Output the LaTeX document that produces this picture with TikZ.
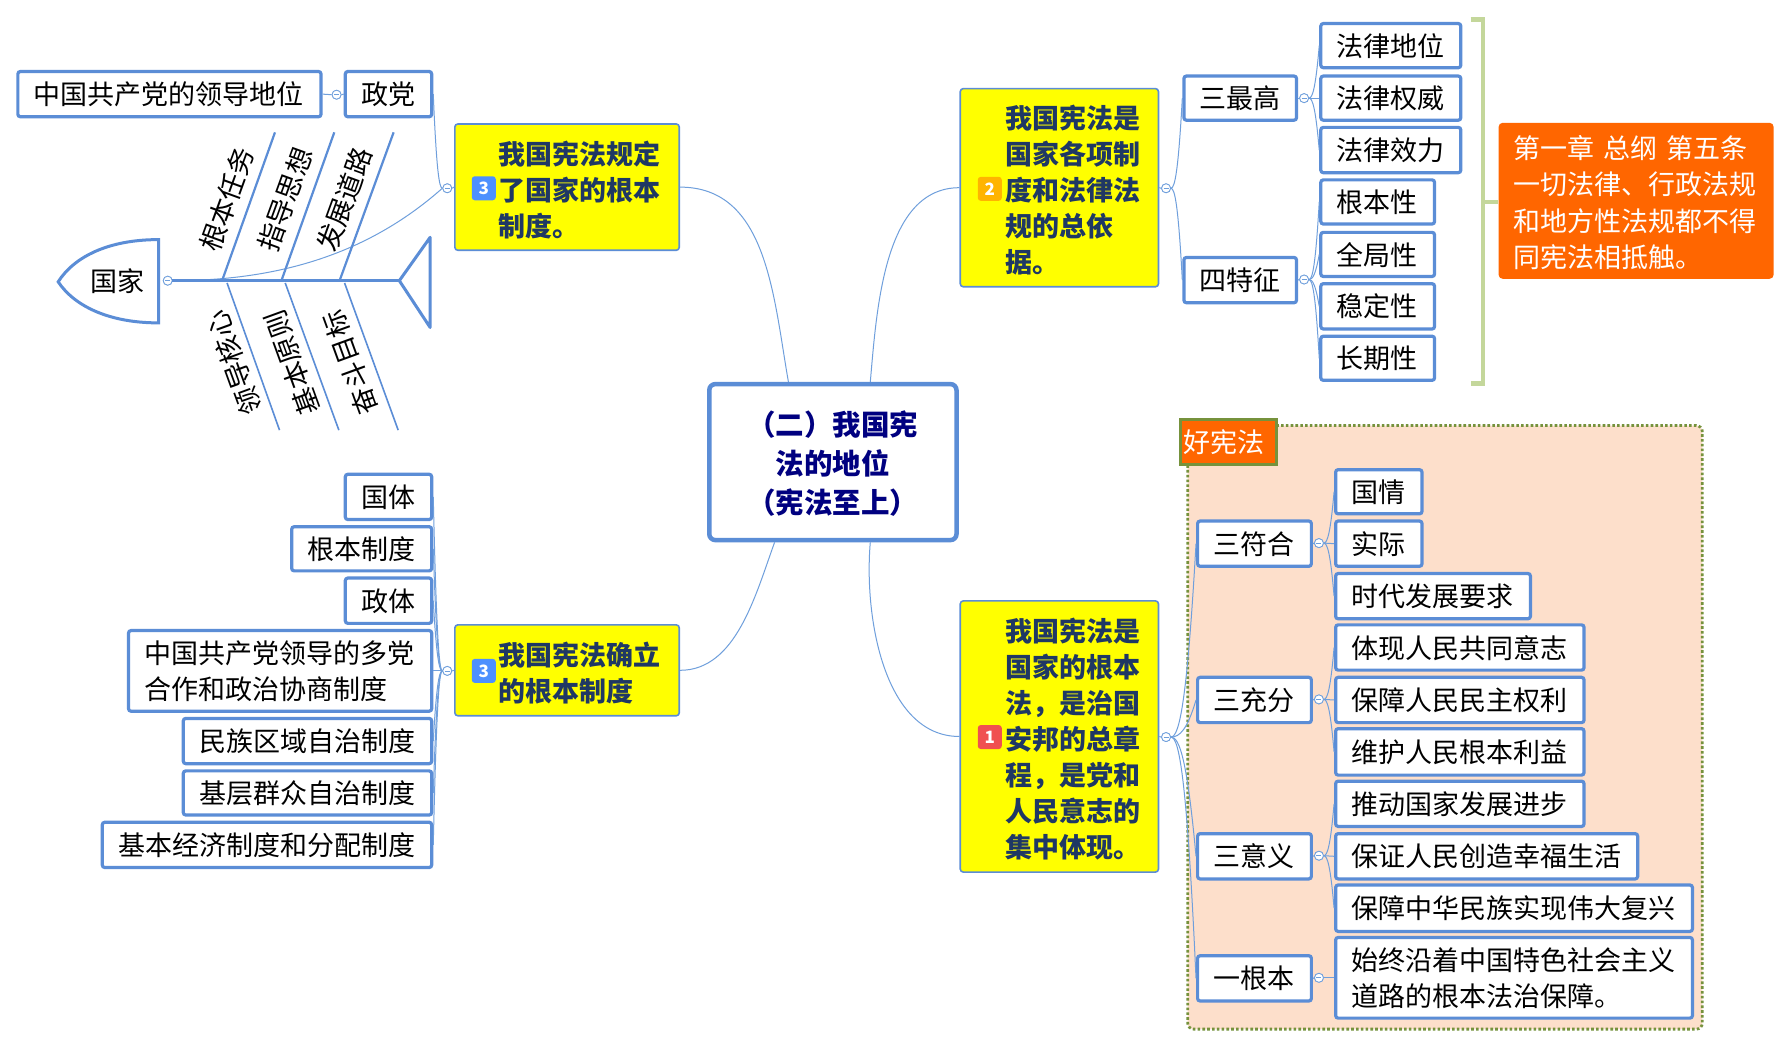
\documentclass[tikz,border=0pt]{standalone}
\usepackage{fontspec}
\setmainfont{Noto Sans CJK SC}
\usetikzlibrary{calc}
\definecolor{bl}{HTML}{5B8DD6}
\definecolor{cn}{HTML}{6F9FDC}
\definecolor{navy2}{HTML}{1F3864}
\definecolor{navy3}{HTML}{000080}
\definecolor{ol}{HTML}{76923C}
\definecolor{orng}{HTML}{FF6600}
\definecolor{peach}{HTML}{FDDFCB}
\definecolor{grn}{HTML}{C4D79B}
\definecolor{bdgb}{HTML}{4D90FE}
\definecolor{bdgo}{HTML}{FFB400}
\definecolor{bdgr}{HTML}{F05050}
\definecolor{yy}{RGB}{255,255,0}
\newcommand\lstrut[2]{\rule[-#2pt]{0pt}{#1pt}}
\tikzset{
  x=1.14094pt,y=-1.14094pt,
  basebox/.style={rectangle,align=left,inner ysep=0pt,inner xsep=16pt},
  struts/.style 2 args={execute at begin node={\lstrut{#1}{#2}},execute at end node={\lstrut{#1}{#2}}},
  leaf/.style={basebox,draw=bl,line width=3.2pt,fill=white,rounded corners=2.5pt,font=\fontsize{27}{36}\selectfont,struts={27.2}{3}},
  ybox/.style={basebox,draw=bl,line width=1.6pt,fill=yy,rounded corners=3pt},
  ytext/.style={anchor=west,inner sep=0pt,align=left,text=navy2,font=\fontsize{27}{36}\selectfont\bfseries},
  mainbox/.style={basebox,align=center,draw=bl,line width=4.5pt,fill=white,rounded corners=6pt,text=navy3,font=\fontsize{28.5}{39}\selectfont\bfseries,struts={31.6}{3.2}},
  orangebox/.style={basebox,inner xsep=15pt,fill=orng,text=white,rounded corners=4pt,font=\fontsize{27}{36.5}\selectfont,text width=245pt,struts={30.6}{3.2}},
  tagbox/.style={basebox,inner xsep=3pt,text width=90pt,fill=orng,draw=ol,line width=3pt,text=white,font=\fontsize{27}{36}\selectfont},
  badge/.style={rectangle,rounded corners=3pt,minimum width=24pt,minimum height=24pt,inner sep=0pt,text=white,font=\fontsize{17}{17}\selectfont\bfseries},
  coll/.style={circle,draw=cn,line width=.8pt,fill=white,minimum size=9pt,inner sep=0pt,
    path picture={\draw[cn,line width=.7pt] ([xshift=2pt]path picture bounding box.west) -- ([xshift=-2pt]path picture bounding box.east);}},
  conn/.style={draw=cn,line width=1pt},
  fishtext/.style={inner sep=0pt,font=\fontsize{27}{27}\selectfont},
  bone/.style={draw=bl,line width=2.2pt},
  lbone/.style={draw=bl,line width=1.6pt},
}
% style, name, x1,y1,x2,y2, text
\newcommand\bx[7]{%
  \pgfmathsetmacro\boxw{(#5-#3)*1.14094-1.5}%
  \pgfmathsetmacro\boxh{(#6-#4)*1.14094-1.5}%
  \pgfmathsetmacro\boxx{(#3+#5)/2}%
  \pgfmathsetmacro\boxy{(#4+#6)/2}%
  \node[minimum width=\boxw pt,minimum height=\boxh pt,text width=\boxw pt-32pt,#1] (#2) at (\boxx,\boxy) {#7};}
\newcommand\rup[2]{\draw[conn] let \p1=(#1.east),\p2=(#2.west),\n1={abs(\y2-\y1)*.8},\n2={(\x2-\x1)*.35} in (\p1) .. controls (\x1+\n2,\y1) and (\x2-\n2,\y2-\n1) .. (\p2);}
\newcommand\rdn[2]{\draw[conn] let \p1=(#1.east),\p2=(#2.west),\n1={abs(\y2-\y1)*.8},\n2={(\x2-\x1)*.35} in (\p1) .. controls (\x1+\n2,\y1) and (\x2-\n2,\y2+\n1) .. (\p2);}
\newcommand\lup[2]{\draw[conn] let \p1=(#1.west),\p2=(#2.east),\n1={abs(\y2-\y1)*.8},\n2={(\x1-\x2)*.35} in (\p1) .. controls (\x1-\n2,\y1) and (\x2+\n2,\y2-\n1) .. (\p2);}
\newcommand\ldn[2]{\draw[conn] let \p1=(#1.west),\p2=(#2.east),\n1={abs(\y2-\y1)*.8},\n2={(\x1-\x2)*.35} in (\p1) .. controls (\x1-\n2,\y1) and (\x2+\n2,\y2+\n1) .. (\p2);}
\begin{document}
\begin{tikzpicture}
\fill[white] (0,0) rectangle (1568,917);
\useasboundingbox (0,0) rectangle (1568,917);
% framed region
\draw[fill=peach,draw=ol,line width=2.8pt,dash pattern=on 2.6pt off 2.2pt,rounded corners=6pt] (1041,373) rectangle (1492,902);
% collapse marks
\node[coll] (cA) at (295,83) {};
\node[coll] (cB) at (392,165) {};
\node[coll] (cF) at (147,246) {};
\node[coll] (cC) at (392,588) {};
\node[coll] (cD) at (1022,165) {};
\node[coll] (cE) at (1143,86) {};
\node[coll] (cG) at (1143,245) {};
\node[coll] (cH) at (1022,646) {};
\node[coll] (cI) at (1156,476) {};
\node[coll] (cJ) at (1156,613) {};
\node[coll] (cK) at (1156,750) {};
\node[coll] (cL) at (1156,857) {};
% boxes
\bx{mainbox}{main}{621}{336}{839}{474}{（二）我国宪\\法的地位\\（宪法至上）}
\bx{ybox}{yTL}{398}{108}{596}{220}{}
\bx{ybox}{yBL}{398}{547}{596}{628}{}
\bx{ybox}{yTR}{841}{77}{1016}{252}{}
\bx{ybox}{yBR}{841}{526}{1016}{765}{}
\node[ytext] (tTL) at (437,166.5) {我国宪法规定\\了国家的根本\\制度。};
\node[ytext] (tBL) at (437,589.5) {我国宪法确立\\的根本制度};
\node[ytext] (tTR) at (881,167) {我国宪法是\\国家各项制\\度和法律法\\规的总依\\据。};
\node[ytext] (tBR) at (881,648) {我国宪法是\\国家的根本\\法，是治国\\安邦的总章\\程，是党和\\人民意志的\\集中体现。};
\node[badge,fill=bdgb] (b1) at (424,165) {3};
\node[badge,fill=bdgb] (b2) at (424,588) {3};
\node[badge,fill=bdgo] (b3) at (867.5,165.5) {2};
\node[badge,fill=bdgr] (b4) at (867.5,646) {1};
% top-left leaves
\bx{leaf}{lA}{15}{62}{282}{103}{中国共产党的领导地位}
\bx{leaf}{lB}{302}{62}{379}{103}{政党}
% bottom-left leaves
\bx{leaf}{m1}{302}{415}{379}{456}{国体}
\bx{leaf}{m2}{255}{461}{379}{501}{根本制度}
\bx{leaf}{m3}{302}{506}{379}{547}{政体}
\bx{leaf}{m4}{112}{552}{379}{624}{中国共产党领导的多党\\合作和政治协商制度}
\bx{leaf}{m5}{160}{629}{379}{670}{民族区域自治制度}
\bx{leaf}{m6}{160}{675}{379}{715}{基层群众自治制度}
\bx{leaf}{m7}{89}{720}{379}{761}{基本经济制度和分配制度}
% top-right leaves
\bx{leaf}{p1}{1037}{66}{1137}{106}{三最高}
\bx{leaf}{p2}{1037}{225}{1137}{266}{四特征}
\bx{leaf}{q1}{1157}{20}{1281}{60}{法律地位}
\bx{leaf}{q2}{1157}{66}{1281}{106}{法律权威}
\bx{leaf}{q3}{1157}{111}{1281}{152}{法律效力}
\bx{leaf}{q4}{1157}{157}{1258}{197}{根本性}
\bx{leaf}{q5}{1157}{203}{1258}{243}{全局性}
\bx{leaf}{q6}{1157}{248}{1258}{289}{稳定性}
\bx{leaf}{q7}{1157}{294}{1258}{334}{长期性}
\bx{orangebox}{note}{1314}{107}{1554}{245}{第一章 总纲 第五条\\一切法律、行政法规\\和地方性法规都不得\\同宪法相抵触。}
% bracket
\coordinate (brA) at (1289,17);
\coordinate (brB) at (1300,17);
\coordinate (brC) at (1300,336);
\coordinate (brD) at (1289,336);
\coordinate (brM) at (1300,177);
\draw[grn,line width=4.5pt] (brA) -- (brB) -- (brC) -- (brD);
\draw[grn,line width=4.5pt] (brM) -- (note.west |- brM);
% bottom-right leaves
\bx{tagbox}{tag}{1034}{367}{1119}{408}{好宪法}
\bx{leaf}{r1}{1049}{456}{1150}{497}{三符合}
\bx{leaf}{r2}{1049}{593}{1150}{634}{三充分}
\bx{leaf}{r3}{1049}{730}{1150}{771}{三意义}
\bx{leaf}{r4}{1049}{837}{1150}{878}{一根本}
\bx{leaf}{s1}{1170}{411}{1247}{451}{国情}
\bx{leaf}{s2}{1170}{456}{1247}{497}{实际}
\bx{leaf}{s3}{1170}{502}{1342}{543}{时代发展要求}
\bx{leaf}{s4}{1170}{547}{1389}{588}{体现人民共同意志}
\bx{leaf}{s5}{1170}{593}{1389}{634}{保障人民民主权利}
\bx{leaf}{s6}{1170}{638}{1389}{680}{维护人民根本利益}
\bx{leaf}{s7}{1170}{684}{1389}{725}{推动国家发展进步}
\bx{leaf}{s8}{1170}{730}{1436}{771}{保证人民创造幸福生活}
\bx{leaf}{s9}{1170}{775}{1484}{817}{保障中华民族实现伟大复兴}
\bx{leaf}{s10}{1170}{821}{1484}{893}{始终沿着中国特色社会主义\\道路的根本法治保障。}
% main connectors
\draw[conn] (main.119) to[out=100,in=0,looseness=1] (yTL.east);
\draw[conn] (main.65) to[out=85,in=180,looseness=.9] (yTR.west);
\draw[conn] (main.234) to[out=-110,in=0,looseness=.9] (yBL.east);
\draw[conn] (main.-65) to[out=-95,in=180,looseness=.9] (yBR.west);
% stems
\draw[conn] (yTL.west) -- (cB.east);
\draw[conn] (yBL.west) -- (cC.east);
\draw[conn] (yTR.east) -- (cD.west);
\draw[conn] (yBR.east) -- (cH.west);
\draw[conn] (p1.east) -- (cE.west);
\draw[conn] (p2.east) -- (cG.west);
\draw[conn] (r1.east) -- (cI.west);
\draw[conn] (r2.east) -- (cJ.west);
\draw[conn] (r3.east) -- (cK.west);
\draw[conn] (r4.east) -- (cL.west);
\draw[conn] (lB.west) -- (cA.east);
\draw[conn] (cA.west) -- (lA.east);
% branches
\lup{cB}{lB}
\draw[conn] (cB.west) .. controls (320,225) and (240,246) .. (cF.east);
\lup{cC}{m1}\lup{cC}{m2}\lup{cC}{m3}
\draw[conn] (cC.west) -- (m4.east);
\ldn{cC}{m5}\ldn{cC}{m6}\ldn{cC}{m7}
\rup{cD}{p1}\rdn{cD}{p2}
\rup{cE}{q1}\draw[conn] (cE.east) -- (q2.west);\rdn{cE}{q3}
\rup{cG}{q4}\rup{cG}{q5}\rdn{cG}{q6}\rdn{cG}{q7}
\rup{cH}{r1}\rup{cH}{r2}\rdn{cH}{r3}\rdn{cH}{r4}
\rup{cI}{s1}\draw[conn] (cI.east) -- (s2.west);\rdn{cI}{s3}
\rup{cJ}{s4}\draw[conn] (cJ.east) -- (s5.west);\rdn{cJ}{s6}
\rup{cK}{s7}\draw[conn] (cK.east) -- (s8.west);\rdn{cK}{s9}
\draw[conn] (cL.east) -- (s10.west);
% redraw collapse marks above their connectors
\foreach \pos in {(295,83),(392,165),(147,246),(392,588),(1022,165),(1143,86),(1143,245),(1022,646),(1156,476),(1156,613),(1156,750),(1156,857)}
  \node[coll] at \pos {};
% fishbone
\coordinate (spA) at (151,246);
\coordinate (spB) at (350,246);
\coordinate (headT) at (139,210);
\coordinate (headB) at (139,283);
\draw[bl,line width=3pt,fill=white] (headT) .. controls (95,210) and (65,225) .. (51,247) .. controls (65,268) and (95,283) .. (headB) -- cycle;
\node[fishtext] (head) at (103,246) {国家};
\draw[bl,line width=3.5pt] (spA) -- (spB);
\draw[bl,line width=3pt,line join=round] (377,208) -- (spB) -- (377,287) -- cycle;
\draw[bone] (195,245) -- (241,116);
\draw[bone] (247,245) -- (293,116);
\draw[bone] (298,245) -- (345,116);
\draw[lbone] (199,248) -- (245,377);
\draw[lbone] (250,248) -- (297,377);
\draw[lbone] (302,248) -- (349,377);
\node[fishtext,rotate=70] (f1) at (199,175) {根本任务};
\node[fishtext,rotate=70] (f2) at (250,175) {指导思想};
\node[fishtext,rotate=70] (f3) at (302,175) {发展道路};
\node[fishtext,rotate=110] (f4) at (205,318) {领导核心};
\node[fishtext,rotate=110] (f5) at (256,318) {基本原则};
\node[fishtext,rotate=110] (f6) at (307,318) {奋斗目标};
\end{tikzpicture}
\end{document}
